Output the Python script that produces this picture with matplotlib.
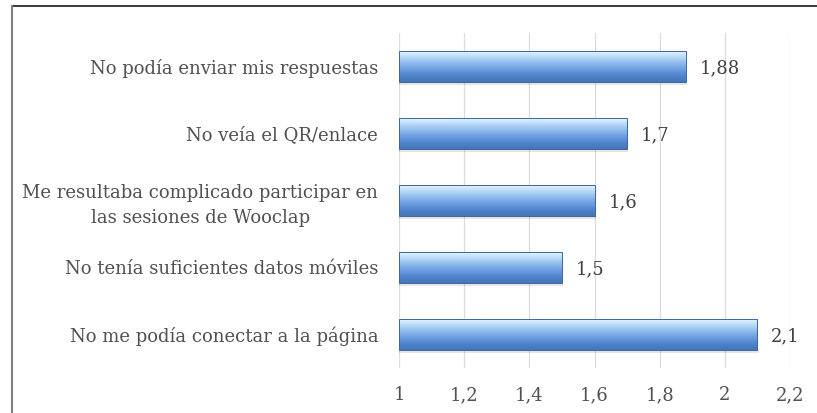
import numpy as np
import matplotlib
matplotlib.use('Agg')
import matplotlib.pyplot as plt
from matplotlib.colors import LinearSegmentedColormap
from matplotlib.patches import Rectangle

categories = ['No podía enviar mis respuestas',
              'No veía el QR/enlace',
              'Me resultaba complicado participar en\nlas sesiones de Wooclap',
              'No tenía suficientes datos móviles',
              'No me podía conectar a la página']
values = [1.88, 1.7, 1.6, 1.5, 2.1]
value_labels = ['1,88', '1,7', '1,6', '1,5', '2,1']
xticks = [1, 1.2, 1.4, 1.6, 1.8, 2, 2.2]
xtick_labels = ['1', '1,2', '1,4', '1,6', '1,8', '2', '2,2']
xmin, xmax = 1, 2.2

plt.rcParams['font.family'] = ['DejaVu Serif']

W, H = 817, 413
fig = plt.figure(figsize=(W / 100, H / 100), dpi=100)
ax = fig.add_axes([399 / W, 1 - 368 / H, (790 - 399) / W, (368 - 33) / H])

# frame around the chart area
fig.add_artist(plt.Line2D([12 / W, 1], [1 - 6 / H, 1 - 6 / H], color='#1a1a1a', lw=1.2))
fig.add_artist(plt.Line2D([12 / W, 12 / W], [0, 1 - 6 / H], color='#808080', lw=1.5))

ypos = np.arange(len(categories))
cmap = LinearSegmentedColormap.from_list('bev', ['#e4f4fe', '#b5d8f6', '#8cb8ec', '#6d9de0', '#5084cc', '#4575b8'])
grad = np.linspace(0, 1, 64).reshape(-1, 1)

bars = ax.barh(ypos, [v - xmin for v in values], left=xmin, height=0.45,
               color='none', edgecolor='#3b659f', lw=0.7, zorder=3)
for b in bars:
    x0, y0, w, h = b.get_x(), b.get_y(), b.get_width(), b.get_height()
    # soft shadow below bar
    ax.add_patch(Rectangle((x0, y0 + h), w + 0.004, 0.05, color='#000000', alpha=0.1, lw=0, zorder=2))
    im = ax.imshow(grad, cmap=cmap, aspect='auto', extent=(x0, x0 + w, y0 + h, y0),
                   origin='upper', zorder=2.5)
    im.set_clip_path(b)

for y, v, lab in zip(ypos, values, value_labels):
    ax.annotate(lab, (v, y), xytext=(10, -1), textcoords='offset points',
                va='center', ha='left', fontsize=13, color='#404040')

ax.set_xlim(xmin, xmax)
ax.set_ylim(len(categories) - 0.5, -0.5)
ax.set_xticks(xticks)
ax.set_xticklabels(xtick_labels, fontsize=13, color='#505050')
ax.set_yticks(ypos)
ax.set_yticklabels(categories, fontsize=13, color='#505050', linespacing=1.45)
for t in ax.get_yticklabels():
    t.set_multialignment('center')
ax.tick_params(axis='y', length=0, pad=15)
ax.tick_params(axis='x', length=0, pad=13)
ax.grid(axis='x', color='#dcdcdc', lw=0.9, zorder=0)
ax.set_axisbelow(True)
for s in ax.spines.values():
    s.set_visible(False)

fig.savefig('out.png', dpi=100)
